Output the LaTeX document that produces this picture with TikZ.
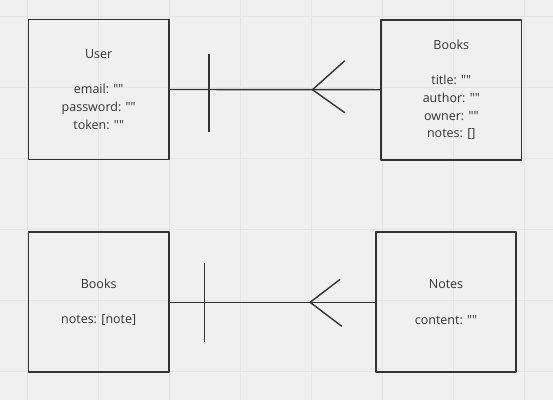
\documentclass[tikz,border=0pt]{standalone}
\usepackage{fontspec}
\setmainfont{Open Sans}[Ligatures=TeXOff]
\definecolor{paper}{HTML}{F0F0F0}
\definecolor{gridline}{HTML}{E4E4E4}
\definecolor{ink}{HTML}{333333}
\begin{document}
\begin{tikzpicture}[x=1pt,y=-1pt,line join=round,
    entity/.style={draw=ink,line width=1.8pt,minimum width=140.5pt,minimum height=140pt,
      inner sep=0pt,text=ink,align=center,font=\fontsize{12.5}{17.7}\selectfont},
    rel/.style={draw=ink,line width=1.4pt}]
  \fill[paper] (0,0) rectangle (553,400);
  \useasboundingbox (0,0) rectangle (553,400);
  \foreach \x in {0,...,7} \draw[gridline,line width=1pt] (27.7+71*\x,0) -- ++(0,400);
  \foreach \y in {0,...,5} \draw[gridline,line width=1pt] (0,16+71*\y) -- ++(553,0);
  \node[entity] (User) at (98.7,89.5) {User\\[17.7pt]email: ""\\password: ""\\token: ""};
  \node[entity] (Books1) at (451.3,89.7) {Books\\[17.7pt]title: ""\\author: ""\\owner: ""\\notes: []};
  \node[entity] (Books2) at (98.7,302.3) {Books\\[17.7pt]notes: [note]};
  \node[entity] (Notes) at (446,302.3) {Notes\\[17.7pt]content: ""};
  % one user, many books
  \draw[rel] (User.east) -- (Books1.west);
  \draw[rel] (User.east) ++(39.3,-36) -- ++(0,78);
  \draw[rel] (Books1.west) ++(-35.3,-29) -- ++(-32.4,29) -- ++(32.4,23);
  % one book, many notes
  \draw[rel] (Books2.east) -- (Notes.west);
  \draw[rel] (Books2.east) ++(34.7,-39) -- ++(0,78.4);
  \draw[rel] (Notes.west) ++(-34.7,-23) -- ++(-30,23) -- ++(31.6,24);
\end{tikzpicture}
\end{document}
